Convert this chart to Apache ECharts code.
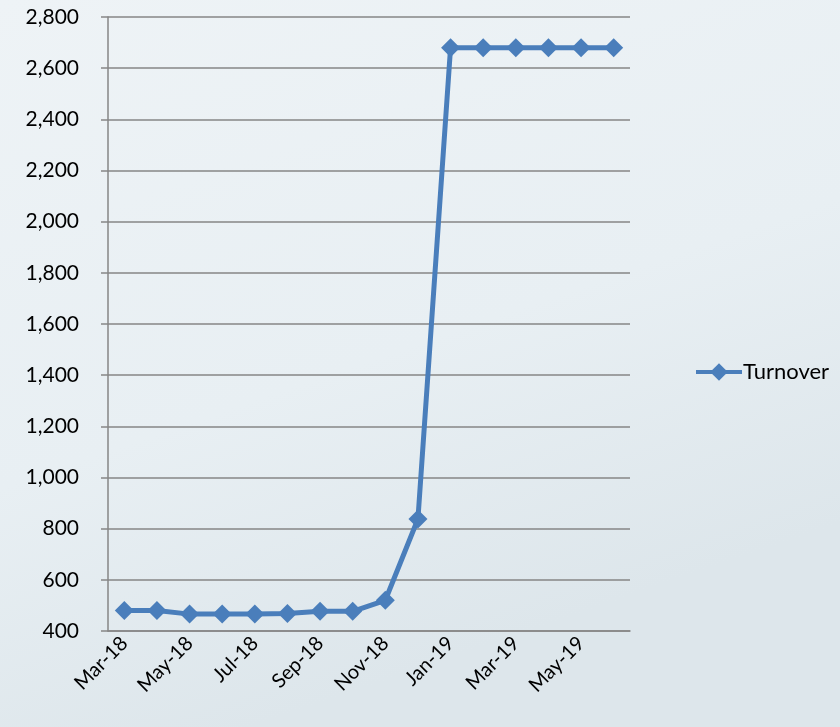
<!DOCTYPE html>
<html>
<head>
<meta charset="utf-8">
<script src="https://cdn.jsdelivr.net/npm/echarts@6/dist/echarts.min.js"></script>
<style>
  html, body { margin: 0; padding: 0; }
  #chart { width: 840px; height: 727px; }
</style>
</head>
<body>
<div id="chart"></div>
<script>
const months = ['Mar-18', 'Apr-18', 'May-18', 'Jun-18', 'Jul-18', 'Aug-18', 'Sep-18', 'Oct-18',
  'Nov-18', 'Dec-18', 'Jan-19', 'Feb-19', 'Mar-19', 'Apr-19', 'May-19', 'Jun-19'];
const turnover = [480, 480, 466, 466, 466, 468, 477, 477, 520, 838, 2680, 2680, 2680, 2680, 2680, 2680];

const chart = echarts.init(document.getElementById('chart'));
const axisGray = '#868686';
const lineBlue = '#4a7ebb';
const font = 'Lato, "Open Sans", sans-serif';

chart.setOption({
  animation: false,
  backgroundColor: {
    type: 'linear', x: 0, y: 0, x2: 0.3, y2: 1,
    colorStops: [
      { offset: 0, color: '#eef3f6' },
      { offset: 0.6, color: '#e8eff3' },
      { offset: 1, color: '#dde6eb' }
    ]
  },
  textStyle: { fontFamily: font },
  grid: { left: 108, right: 210, top: 17, bottom: 96 },
  legend: {
    data: ['Turnover'],
    left: 689,
    top: 356,
    itemWidth: 46,
    itemHeight: 22,
    itemGap: 4,
    lineStyle: { width: 4, color: lineBlue },
    textStyle: { fontSize: 22, color: '#000', fontFamily: font, padding: [0, 0, 0, -4] }
  },
  xAxis: {
    type: 'category',
    data: months,
    boundaryGap: true,
    axisLine: { lineStyle: { color: axisGray, width: 1.5 } },
    axisTick: { interval: 1, length: 7, lineStyle: { color: axisGray, width: 1.5 } },
    axisLabel: {
      interval: 1,
      rotate: 45,
      margin: 9,
      fontSize: 20,
      color: '#000',
      fontFamily: font
    }
  },
  yAxis: {
    type: 'value',
    min: 400,
    max: 2800,
    interval: 200,
    axisLine: { show: true, lineStyle: { color: axisGray, width: 1.5 } },
    axisTick: { show: true, length: 7, lineStyle: { color: axisGray, width: 1.5 } },
    splitLine: { lineStyle: { color: axisGray, width: 1.5 } },
    axisLabel: {
      margin: 29,
      fontSize: 21,
      color: '#000',
      fontFamily: font,
      formatter: v => v.toLocaleString('en-US')
    }
  },
  series: [{
    name: 'Turnover',
    type: 'line',
    data: turnover,
    symbol: 'diamond',
    symbolSize: 19,
    lineStyle: { color: lineBlue, width: 5 },
    itemStyle: { color: lineBlue }
  }]
});
</script>
</body>
</html>
